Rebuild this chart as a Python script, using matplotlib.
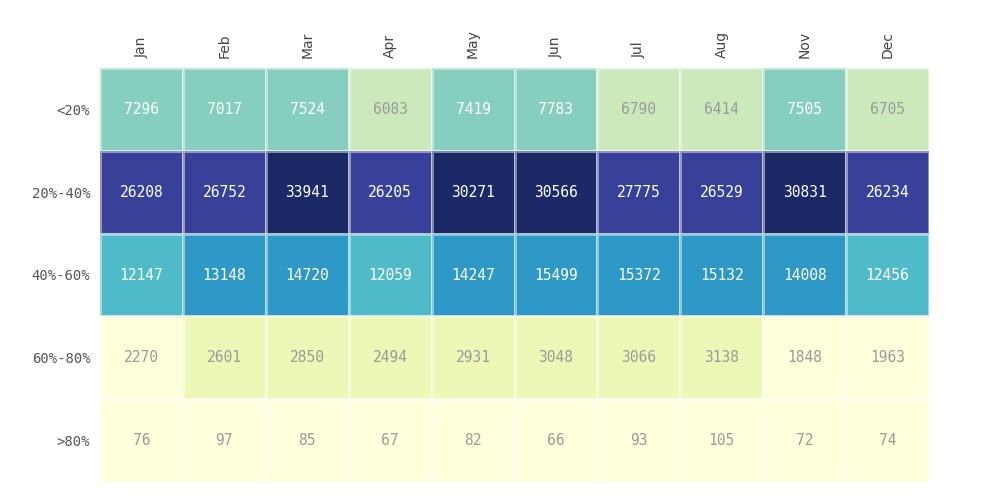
import numpy as np
import matplotlib
matplotlib.use("Agg")
import matplotlib.pyplot as plt
from matplotlib.colors import ListedColormap, BoundaryNorm

months = ["Jan", "Feb", "Mar", "Apr", "May", "Jun", "Jul", "Aug", "Nov", "Dec"]
bands = ["<20%", "20%-40%", "40%-60%", "60%-80%", ">80%"]
row_lt20 = [7296, 7017, 7524, 6083, 7419, 7783, 6790, 6414, 7505, 6705]
row_20_40 = [26208, 26752, 33941, 26205, 30271, 30566, 27775, 26529, 30831, 26234]
row_40_60 = [12147, 13148, 14720, 12059, 14247, 15499, 15372, 15132, 14008, 12456]
row_60_80 = [2270, 2601, 2850, 2494, 2931, 3048, 3066, 3138, 1848, 1963]
row_gt80 = [76, 97, 85, 67, 82, 66, 93, 105, 72, 74]

data = np.array([row_lt20, row_20_40, row_40_60, row_60_80, row_gt80])

colors = ["#ffffdb", "#eef8b6", "#cbe9bb", "#86cfbf", "#50bbc8", "#2e99c6", "#37419a", "#1b2a66"]
bounds = [0, 2400, 4500, 7000, 10000, 13000, 20000, 29000, 40000]
cmap = ListedColormap(colors)
norm = BoundaryNorm(bounds, cmap.N)

W, H = 993, 500
fig = plt.figure(figsize=(W / 100, H / 100), dpi=100)
left, right, top, bottom = 100, 929, 68, 482
ax = fig.add_axes([left / W, 1 - bottom / H, (right - left) / W, (bottom - top) / H])

nr, nc = data.shape
ax.pcolormesh(np.arange(nc + 1), np.arange(nr + 1), data, cmap=cmap, norm=norm,
              edgecolor=(1, 1, 1, 0.45), linewidth=0.8)
ax.set_xlim(0, nc)
ax.set_ylim(nr, 0)

for i in range(nr):
    for j in range(nc):
        v = data[i, j]
        col = "white" if v >= 7000 else "#9a9a9a"
        ax.text(j + 0.5, i + 0.5, str(v), ha="center", va="center",
                fontsize=10.5, family="DejaVu Sans Mono", color=col)

ax.set_xticks(np.arange(nc) + 0.5)
ax.set_xticklabels(months, rotation=90, fontsize=10, color="#444444", family="DejaVu Sans")
ax.xaxis.tick_top()
ax.set_yticks(np.arange(nr) + 0.5)
ax.set_yticklabels(bands, fontsize=10, color="#555555", family="DejaVu Sans Mono")
ax.tick_params(length=0, pad=7)
for s in ax.spines.values():
    s.set_visible(False)

fig.savefig("out.png", dpi=100, facecolor="white")
